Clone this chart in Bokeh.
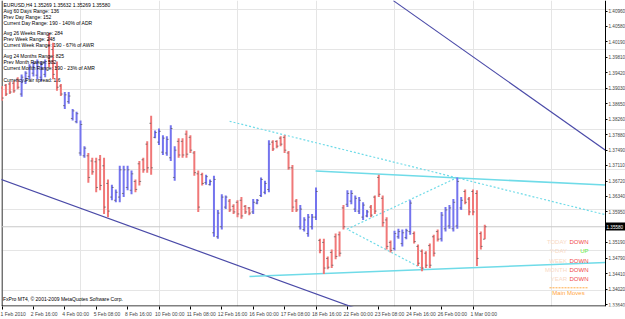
from bokeh.plotting import figure
from bokeh.models import Range1d, LinearAxis, FixedTicker
from bokeh.core.properties import value
from bokeh.embed import file_html
from bokeh.resources import INLINE

# ---------------- data ----------------
symbol_line = "EURUSD,H4  1.35269 1.35632 1.35269 1.35580"
info_lines = [
    "Avg 60 Days Range: 136",
    "Prev Day Range: 152",
    "Current Day Range: 190 - 140% of ADR",
    "Avg 26 Weeks Range: 284",
    "Prev Week Range: 248",
    "Current Week Range: 190 - 67% of AWR",
    "Avg 24 Months Range: 825",
    "Prev Month Range: 582",
    "Current Month Range: 190 - 23% of AMR",
    "Currency Pair spread: 1.6",
]
copyright_text = "FxPro MT4, \u00a9 2001-2009 MetaQuotes Software Corp."

bar_high = [1.3909,1.3914,1.3919,1.3921,1.3931,1.3938,1.3946,1.3963,1.3970,1.3975,
            1.3970,1.3975,1.4041,1.4017,1.3970,1.3914,1.3894,1.3894,1.3852,1.3845,
            1.3823,1.3759,1.3742,1.3730,1.3730,1.3737,1.3730,1.3676,1.3663,1.3651,
            1.3710,1.3710,1.3710,1.3698,1.3676,1.3722,1.3730,1.3771,1.3835,1.3798,
            1.3803,1.3786,1.3784,1.3811,1.3759,1.3779,1.3779,1.3798,1.3786,1.3747,
            1.3698,1.3693,1.3688,1.3676,1.3685,1.3600,1.3639,1.3636,1.3627,1.3614,
            1.3624,1.3632,1.3612,1.3607,1.3627,1.3627,1.3681,1.3673,1.3774,1.3774,
            1.3774,1.3784,1.3786,1.3747,1.3712,1.3627,1.3612,1.3582,1.3590,1.3590,
            1.3656,1.3528,1.3528,1.3484,1.3501,1.3541,1.3546,1.3612,1.3649,1.3649,
            1.3636,1.3632,1.3619,1.3600,1.3612,1.3636,1.3688,1.3636,1.3582,1.3524,
            1.3548,1.3553,1.3551,1.3553,1.3624,1.3546,1.3514,1.3501,1.3497,1.3516,
            1.3538,1.3551,1.3595,1.3607,1.3612,1.3627,1.3681,1.3632,1.3651,1.3632,
            1.3651,1.3649,1.3546,1.35632]
bar_low = [1.3872,1.3884,1.3889,1.3892,1.3901,1.3882,1.3914,1.3926,1.3933,1.3926,
           1.3921,1.3931,1.3955,1.3926,1.3897,1.3884,1.3852,1.3865,1.3823,1.3816,
           1.3735,1.3730,1.3668,1.3688,1.3644,1.3649,1.3590,1.3582,1.3624,1.3619,
           1.3619,1.3632,1.3649,1.3639,1.3644,1.3661,1.3693,1.3693,1.3688,1.3779,
           1.3762,1.3737,1.3735,1.3722,1.3673,1.3730,1.3730,1.3730,1.3742,1.3685,
           1.3595,1.3661,1.3663,1.3661,1.3533,1.3528,1.3551,1.3602,1.3595,1.3590,
           1.3582,1.3578,1.3590,1.3587,1.3590,1.3614,1.3632,1.3639,1.3644,1.3747,
           1.3754,1.3759,1.3742,1.3700,1.3595,1.3595,1.3551,1.3546,1.3533,1.3551,
           1.3575,1.3492,1.3440,1.3452,1.3455,1.3477,1.3484,1.3551,1.3607,1.3614,
           1.3595,1.3590,1.3575,1.3582,1.3582,1.3590,1.3632,1.3558,1.3501,1.3494,
           1.3499,1.3528,1.3509,1.3527,1.3538,1.3516,1.3460,1.3447,1.3455,1.3455,
           1.3484,1.3521,1.3521,1.3546,1.3553,1.3546,1.3553,1.3600,1.3614,1.3587,
           1.3587,1.3460,1.3501,1.35269]
bar_open = [1.3904,1.3911,1.3914,1.3916,1.3926,1.3889,1.3921,1.3933,1.3941,1.3936,
            1.3931,1.3938,1.4024,1.4000,1.3955,1.3909,1.3860,1.3870,1.3828,1.3820,
            1.3742,1.3735,1.3735,1.3722,1.3720,1.3725,1.3710,1.3666,1.3632,1.3624,
            1.3632,1.3641,1.3656,1.3649,1.3671,1.3715,1.3725,1.3764,1.3816,1.3781,
            1.3769,1.3744,1.3742,1.3730,1.3681,1.3771,1.3771,1.3789,1.3781,1.3742,
            1.3690,1.3688,1.3668,1.3663,1.3543,1.3533,1.3558,1.3607,1.3622,1.3609,
            1.3619,1.3624,1.3609,1.3605,1.3595,1.3617,1.3636,1.3644,1.3651,1.3769,
            1.3771,1.3779,1.3781,1.3742,1.3705,1.3622,1.3558,1.3551,1.3541,1.3558,
            1.3582,1.3524,1.3519,1.3479,1.3494,1.3533,1.3538,1.3605,1.3614,1.3622,
            1.3602,1.3597,1.3582,1.3585,1.3607,1.3632,1.3681,1.3629,1.3575,1.3519,
            1.3504,1.3533,1.3516,1.3531,1.3546,1.3541,1.3509,1.3497,1.3492,1.3511,
            1.3533,1.3546,1.3528,1.3553,1.3560,1.3553,1.3560,1.3605,1.3646,1.3627,
            1.3646,1.3641,1.3541,1.35269]
bar_close = [1.3879,1.3889,1.3894,1.3897,1.3906,1.3931,1.3941,1.3958,1.3965,1.3968,
             1.3963,1.3970,1.3970,1.3938,1.3906,1.3889,1.3887,1.3884,1.3847,1.3840,
             1.3813,1.3754,1.3681,1.3695,1.3656,1.3661,1.3607,1.3597,1.3656,1.3644,
             1.3700,1.3700,1.3700,1.3690,1.3651,1.3671,1.3700,1.3705,1.3705,1.3793,
             1.3796,1.3779,1.3776,1.3803,1.3749,1.3737,1.3737,1.3739,1.3749,1.3693,
             1.3607,1.3666,1.3683,1.3671,1.3676,1.3592,1.3632,1.3632,1.3600,1.3595,
             1.3590,1.3585,1.3595,1.3592,1.3619,1.3624,1.3676,1.3666,1.3764,1.3752,
             1.3759,1.3764,1.3749,1.3705,1.3607,1.3600,1.3602,1.3575,1.3582,1.3582,
             1.3646,1.3499,1.3455,1.3457,1.3462,1.3484,1.3492,1.3558,1.3641,1.3641,
             1.3629,1.3624,1.3612,1.3595,1.3587,1.3597,1.3639,1.3568,1.3509,1.3499,
             1.3541,1.3546,1.3543,1.3548,1.3617,1.3521,1.3467,1.3455,1.3462,1.3462,
             1.3492,1.3527,1.3587,1.3600,1.3605,1.3619,1.3671,1.3624,1.3619,1.3595,
             1.3595,1.3479,1.3509,1.35580]
# bar colour as painted on the chart: r = red bar, b = blue bar
bar_trend = list("rrrrr" "bbbbbbb" "rrrr" "bbbbbb" "rrrrrr" "bbbbbb" "rrrrr"
                 "bbbbbb" "rrrrrrr" "bbbbbb" "rrrrrr" "bbbbb" "rrrrrrr" "bbbbb"
                 "rrrrrrr" "bbbbbb" "rrrrrr" "bbbbb" "rrrrrrr" "bbbbbb" "rrrrrr")

time_tick_bars = [0, 8, 16, 24, 32, 40, 48, 56, 64, 72, 80, 88, 96, 104, 112, 120]
time_tick_labels = ["1 Feb 2010", "2 Feb 16:00", "4 Feb 00:00", "5 Feb 08:00",
                    "8 Feb 16:00", "10 Feb 00:00", "11 Feb 08:00", "12 Feb 16:00",
                    "16 Feb 00:00", "17 Feb 08:00", "18 Feb 16:00", "22 Feb 00:00",
                    "23 Feb 08:00", "24 Feb 16:00", "26 Feb 00:00", "1 Mar 00:00"]
price_ticks = [1.40960, 1.40580, 1.40190, 1.39810, 1.39420, 1.39030, 1.38650,
               1.38260, 1.37880, 1.37490, 1.37110, 1.36720, 1.36340, 1.35950,
               1.35190, 1.34790, 1.34410, 1.34020, 1.33640]
last_price = 1.35580

# trend lines: (bar index, price) end points
dark_upper_bars, dark_upper_prices = [99.7, 153.75], [1.4122, 1.3749]
dark_lower_bars, dark_lower_prices = [-1.0, 90.0], [1.3679, 1.3355]
cyan_top_bars, cyan_top_prices = [79.9, 153.75], [1.3697, 1.3662]
cyan_bottom_bars, cyan_bottom_prices = [63.05, 153.75], [1.3434, 1.3469]
dotted_long_bars, dotted_long_prices = [58.0, 153.75], [1.3821, 1.3588]
dotted_wedge_bars, dotted_wedge_prices = [116.05, 87.9, 107.6], [1.3681, 1.3552, 1.3451]

legend_names = ["TODAY", "Y-DAY", "WEEK", "MONTH", "YEAR"]
legend_states = ["DOWN", "UP", "DOWN", "DOWN", "DOWN"]

# ---------------- layout helpers (screen px -> data) ----------------
PX_PER_BAR = 3.925
X0_PX = 1.5
def bx(px):
    return (px - X0_PX) / PX_PER_BAR
def py(py_):
    return 1.41223 - 0.0002454 * py_

FONT = "Liberation Sans"
SMALL = "5px"
AXIS_FONT = "4.6px"
AXIS_X = bx(605)   # where the price scale sits

p = figure(width=625, height=319, output_backend="svg", toolbar_location=None,
           x_range=Range1d(bx(1), bx(625)), y_range=Range1d(py(311), py(0)),
           x_axis_location=None, y_axis_location=None,
           min_border_left=1, min_border_right=0, min_border_top=0, min_border_bottom=8)
p.outline_line_color = None
p.background_fill_color = "white"
p.border_fill_color = "white"

# time axis
label_shift = 2.75
xt = [b + label_shift for b in time_tick_bars]
xaxis = LinearAxis(ticker=FixedTicker(ticks=xt, minor_ticks=time_tick_bars),
                   major_label_overrides={t: s for t, s in zip(xt, time_tick_labels)})
xaxis.major_tick_out = 0
xaxis.major_tick_in = 0
xaxis.minor_tick_out = 3
xaxis.minor_tick_in = 0
xaxis.major_label_standoff = 1
xaxis.major_label_text_font = FONT
xaxis.major_label_text_font_size = SMALL
xaxis.axis_line_color = None
p.add_layout(xaxis, "below")

# price axis pinned at the right edge of the chart area
yaxis = LinearAxis(ticker=FixedTicker(ticks=price_ticks, minor_ticks=[]),
                   major_label_overrides={t: "%.5f" % t for t in price_ticks},
                   fixed_location=AXIS_X)
yaxis.major_tick_out = 2
yaxis.major_tick_in = 0
yaxis.minor_tick_out = 0
yaxis.major_label_standoff = 1
yaxis.major_label_text_font = FONT
yaxis.major_label_text_font_size = AXIS_FONT
yaxis.axis_line_color = "black"
p.add_layout(yaxis, "right")

# current-price marker: a single black tick with the price written over it
price_axis = LinearAxis(ticker=FixedTicker(ticks=[last_price], minor_ticks=[]),
                        major_label_overrides={last_price: "%.5f" % last_price},
                        fixed_location=AXIS_X)
price_axis.axis_line_color = None
price_axis.major_tick_in = 0
price_axis.major_tick_out = 20
price_axis.major_tick_line_width = 8
price_axis.major_tick_line_color = "black"
price_axis.minor_tick_out = 0
price_axis.major_label_standoff = -19
price_axis.major_label_text_color = "white"
price_axis.major_label_text_font = FONT
price_axis.major_label_text_font_size = AXIS_FONT
p.add_layout(price_axis, "right")

# chart border (left and bottom)
p.line([bx(1.5), bx(1.5)], [py(0), py(310.5)], line_color="black", line_width=1)
p.line([bx(1), AXIS_X], [py(310.5), py(310.5)], line_color="black", line_width=1)

# current price line
p.line([bx(1), AXIS_X], [last_price, last_price], line_color="#c8c8c8", line_width=1)

# trend lines
p.line(dark_upper_bars, dark_upper_prices, line_color="#4a4aa8", line_width=1.2)
p.line(dark_lower_bars, dark_lower_prices, line_color="#4a4aa8", line_width=1.2)
p.line(cyan_top_bars, cyan_top_prices, line_color="#6fdbe8", line_width=1.6)
p.line(cyan_bottom_bars, cyan_bottom_prices, line_color="#6fdbe8", line_width=1.6)
p.line(dotted_long_bars, dotted_long_prices, line_color="#6fdbe8", line_width=1.2, line_dash="2 2")
p.line(dotted_wedge_bars, dotted_wedge_prices, line_color="#6fdbe8", line_width=1.2, line_dash="2 2")

# bars
idx = list(range(len(bar_high)))
colors = ["#f07878" if t == "r" else "#7474ee" for t in bar_trend]
p.segment(x0=idx, y0=bar_low, x1=idx, y1=bar_high, line_color=colors, line_width=2)
p.segment(x0=[i - 0.45 for i in idx], y0=bar_open, x1=idx, y1=bar_open,
          line_color="#555555", line_width=1, line_alpha=0.7)
p.segment(x0=idx, y0=bar_close, x1=[i + 0.45 for i in idx], y1=bar_close,
          line_color="#555555", line_width=1, line_alpha=0.7)

# top-left comment block
lines_y = [5, 10.8, 16.7, 22.7, 33.3, 39.3, 45.0, 56.7, 62.5, 68.4, 80.3]
p.text(x=[bx(3)] * 11, y=[py(v) for v in lines_y], text=[symbol_line] + info_lines,
       text_font=value(FONT), text_font_size=SMALL, text_color="black",
       text_baseline="middle", text_align="left")
p.text(x=[bx(2.5)], y=[py(303)], text=[copyright_text], text_font=value(FONT),
       text_font_size=SMALL, text_color="black", text_baseline="middle", text_align="left")

# Main moves panel
rows_y = [245, 254.8, 264.4, 274, 283.5]
p.text(x=[bx(566.5)] * 5, y=[py(v) for v in rows_y], text=legend_names,
       text_font=value(FONT), text_font_size="6px", text_color="#f9d9c4",
       text_baseline="middle", text_align="right")
p.text(x=[bx(588)] * 5, y=[py(v) for v in rows_y], text=legend_states,
       text_font=value(FONT), text_font_size="6px",
       text_color=["#66ee44" if s == "UP" else "#f04848" for s in legend_states],
       text_baseline="middle", text_align="right")
p.line([bx(549), bx(588)], [py(292), py(292)], line_color="#ffaa44", line_width=1, line_dash="2 1")
p.text(x=[bx(568)], y=[py(297)], text=["Main Moves"], text_font=value(FONT),
       text_font_size="6px", text_color="#ffa640", text_baseline="middle", text_align="center")

open("out.html", "w").write(file_html(p, INLINE))
